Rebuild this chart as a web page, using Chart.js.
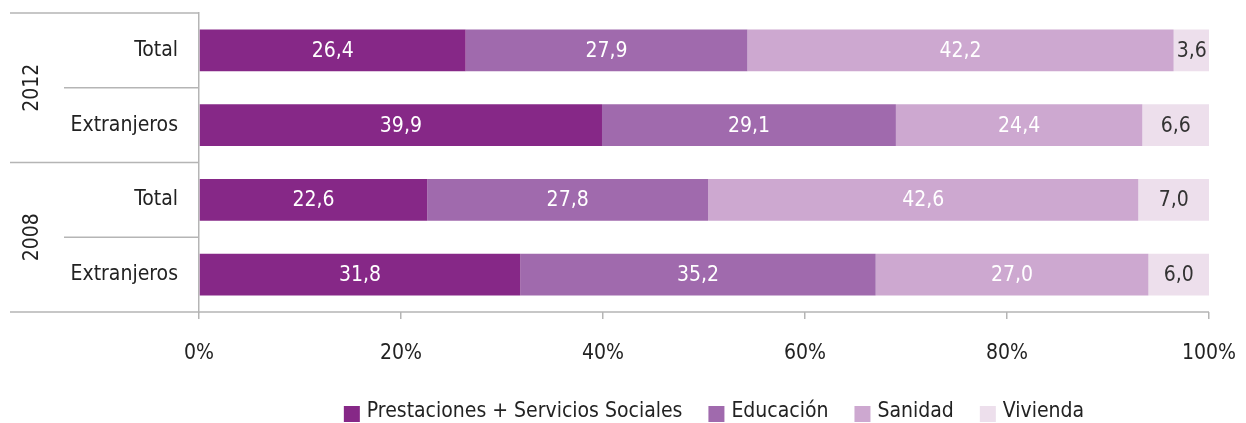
<!DOCTYPE html>
<html>
<head>
<meta charset="utf-8">
<script src="https://cdn.jsdelivr.net/npm/chart.js@4"></script>
<style>
  html, body { margin: 0; padding: 0; background: #fff; }
  #wrap { width: 1246px; height: 423px; position: relative; }
</style>
</head>
<body>
<div id="wrap"><canvas id="chart"></canvas></div>
<script>
// categorias y grupos (eje vertical)
const categorias = ['Total', 'Extranjeros', 'Total', 'Extranjeros'];
const grupos = ['2012', '2012', '2008', '2008'];

// series (% del gasto)
const prestaciones = [26.4, 39.9, 22.6, 31.8];
const educacion = [27.9, 29.1, 27.8, 35.2];
const sanidad = [42.2, 24.4, 42.6, 27.0];
const vivienda = [3.6, 6.6, 7.0, 6.0];

const seriesNombres = ['Prestaciones + Servicios Sociales', 'Educación', 'Sanidad', 'Vivienda'];
const colores = ['#862887', '#a06aad', '#cda8d0', '#eddfec'];
const colorTexto = ['#ffffff', '#ffffff', '#ffffff', '#333333'];

const FUENTE = "'DejaVu Sans Condensed', 'Liberation Sans Narrow', sans-serif";
const TAM = 21;
const LINEA = '#b5b5b5';

// etiquetas dentro de las barras
const etiquetasBarras = {
  id: 'etiquetasBarras',
  afterDatasetsDraw(chart) {
    const ctx = chart.ctx;
    ctx.save();
    ctx.font = TAM + 'px ' + FUENTE;
    ctx.textAlign = 'center';
    ctx.textBaseline = 'middle';
    chart.data.datasets.forEach((ds, i) => {
      chart.getDatasetMeta(i).data.forEach((bar, j) => {
        const x = (bar.x + bar.base) / 2;
        ctx.fillStyle = colorTexto[i];
        ctx.fillText(ds.data[j].toFixed(1).replace('.', ','), x, bar.y + 1);
      });
    });
    ctx.restore();
  }
};

// lineas separadoras, años y leyenda
const separadores = {
  id: 'separadores',
  afterDraw(chart) {
    const ctx = chart.ctx;
    const y = chart.scales.y;
    const area = chart.chartArea;
    const banda = y.getPixelForValue(1) - y.getPixelForValue(0);
    ctx.save();
    ctx.strokeStyle = LINEA;
    ctx.lineWidth = 1.5;
    for (let i = 0; i <= categorias.length; i++) {
      const py = y.getPixelForValue(i) - banda / 2;
      const inicioGrupo = i === categorias.length || grupos[i] !== grupos[i - 1];
      ctx.beginPath();
      ctx.moveTo(inicioGrupo ? 10 : 64, py);
      ctx.lineTo(i === categorias.length ? area.right : area.left, py);
      ctx.stroke();
    }
    ctx.fillStyle = '#222';
    ctx.font = TAM + 'px ' + FUENTE;
    ctx.textAlign = 'center';
    ctx.textBaseline = 'middle';
    const vistos = [];
    grupos.forEach(g => {
      if (vistos.includes(g)) return;
      vistos.push(g);
      const idx = grupos.map((v, k) => v === g ? k : -1).filter(k => k >= 0);
      const cy = (y.getPixelForValue(idx[0]) + y.getPixelForValue(idx[idx.length - 1])) / 2;
      ctx.save();
      ctx.translate(33, cy);
      ctx.rotate(-Math.PI / 2);
      ctx.fillText(g, 0, 0);
      ctx.restore();
    });

    // leyenda
    ctx.font = TAM + 'px ' + FUENTE;
    ctx.textAlign = 'left';
    const caja = 16, hueco = 7, sep = 26;
    const anchos = chart.data.datasets.map(ds => ctx.measureText(ds.label).width);
    const total = anchos.reduce((a, w) => a + caja + hueco + w, 0) + sep * (anchos.length - 1);
    let lx = 714 - total / 2;
    const ly = 412;
    chart.data.datasets.forEach((ds, i) => {
      ctx.fillStyle = ds.backgroundColor;
      ctx.fillRect(lx, ly - caja / 2 + 2, caja, caja);
      ctx.fillStyle = '#222';
      ctx.fillText(ds.label, lx + caja + hueco, ly);
      lx += caja + hueco + anchos[i] + sep;
    });
    ctx.restore();
  }
};

const ctx = document.getElementById('chart').getContext('2d');
new Chart(ctx, {
  type: 'bar',
  data: {
    labels: categorias,
    datasets: seriesNombres.map((n, i) => ({
      label: n,
      data: [prestaciones, educacion, sanidad, vivienda][i],
      backgroundColor: colores[i],
      borderWidth: 0,
      barPercentage: 0.56,
      categoryPercentage: 1.0
    }))
  },
  options: {
    indexAxis: 'y',
    responsive: true,
    maintainAspectRatio: false,
    animation: false,
    layout: { padding: { top: 13, right: 37, left: 0, bottom: 60 } },
    scales: {
      x: {
        stacked: true,
        min: 0,
        max: 100,
        ticks: {
          stepSize: 20,
          color: '#222',
          font: { family: FUENTE, size: TAM },
          padding: 22,
          callback: v => v + '%'
        },
        grid: { drawOnChartArea: false, color: LINEA, lineWidth: 1.5, tickLength: 7 },
        border: { display: false },
        afterFit: s => { s.height = 51; s.paddingLeft = 0; s.paddingRight = 0; }
      },
      y: {
        stacked: true,
        ticks: {
          color: '#222',
          font: { family: FUENTE, size: TAM },
          padding: 13
        },
        grid: { display: false },
        border: { display: true, color: LINEA, width: 1.5 },
        afterFit: s => { s.width = 199; s.paddingTop = 0; s.paddingBottom = 0; }
      }
    },
    plugins: {
      legend: { display: false },
      tooltip: { enabled: false }
    }
  },
  plugins: [etiquetasBarras, separadores]
});
</script>
</body>
</html>
